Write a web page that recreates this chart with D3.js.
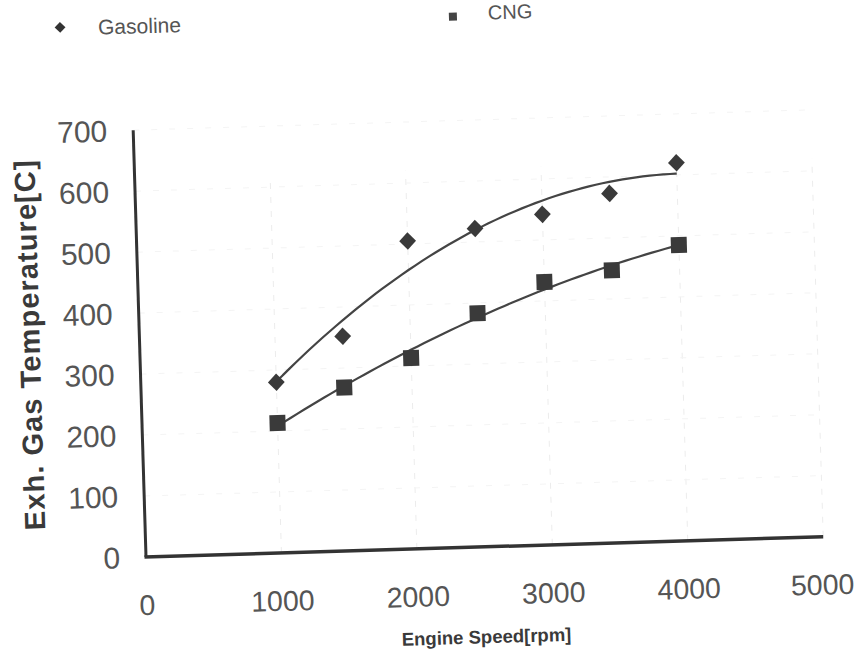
<!DOCTYPE html>
<html>
<head>
<meta charset="utf-8">
<script src="https://cdn.jsdelivr.net/npm/d3@7"></script>
<style>
  body { margin: 0; background: #fff; }
  svg { display: block; font-family: 'Liberation Sans', Arial, sans-serif; }
</style>
</head>
<body>
<svg id="chart" width="856" height="660"></svg>
<script>
// engine speed [rpm] for each measurement
const speeds = [1000, 1500, 2000, 2500, 3000, 3500, 4000]
// exhaust gas temperature [C]
const gasoline = [280, 352, 505, 522, 542, 573, 620]
const cng = [213, 268, 313, 383, 431, 447, 485]

const xTicks = [0, 1000, 2000, 3000, 4000, 5000]
const yTicks = [0, 100, 200, 300, 400, 500, 600, 700]

const origin = { x: 146, y: 557 }
const tilt = -1.72 // the scanned page is slightly rotated

const svg = d3.select('#chart')
const g = svg.append('g')
  .attr('transform', 'rotate(' + tilt + ',' + origin.x + ',' + origin.y + ')')

const xScale = d3.scaleLinear().domain([0, 5000]).range([origin.x, origin.x + 677.5])
const yScale = d3.scaleLinear().domain([0, 700]).range([origin.y, origin.y - 427])

// faint dashed grid
g.selectAll('.vgrid')
  .data(xTicks.filter(d => d > 0))
  .enter()
  .append('line')
  .attr('x1', d => xScale(d))
  .attr('x2', d => xScale(d))
  .attr('y1', yScale(0))
  .attr('y2', yScale(620))
  .attr('stroke', '#ececec')
  .attr('stroke-width', 1)
  .attr('stroke-dasharray', '6,8')

g.selectAll('.hgrid')
  .data(yTicks.filter(d => d > 0))
  .enter()
  .append('line')
  .attr('x1', xScale(0))
  .attr('x2', xScale(5000))
  .attr('y1', d => yScale(d))
  .attr('y2', d => yScale(d))
  .attr('stroke', '#f4f4f4')
  .attr('stroke-width', 1)
  .attr('stroke-dasharray', '6,12')

// axes
g.append('line')
  .attr('x1', xScale(0)).attr('x2', xScale(0))
  .attr('y1', yScale(0)).attr('y2', yScale(700))
  .attr('stroke', '#333').attr('stroke-width', 3)

g.append('line')
  .attr('x1', xScale(0) - 1.5).attr('x2', xScale(5000))
  .attr('y1', yScale(0)).attr('y2', yScale(0))
  .attr('stroke', '#333').attr('stroke-width', 3.5)

// tick labels
g.selectAll('.xlab')
  .data(xTicks)
  .enter()
  .append('text')
  .attr('x', d => xScale(d) - (d === 5000 ? 2 : 0))
  .attr('y', yScale(0) + 48)
  .attr('dy', '0.35em')
  .attr('text-anchor', 'middle')
  .attr('font-size', 28.5)
  .attr('fill', '#555')
  .text(d => d)

g.selectAll('.ylab')
  .data(yTicks)
  .enter()
  .append('text')
  .attr('x', xScale(0) - 26)
  .attr('y', d => yScale(d))
  .attr('dy', '0.35em')
  .attr('text-anchor', 'end')
  .attr('font-size', 30)
  .attr('fill', '#555')
  .text(d => d)

// axis titles
g.append('text')
  .attr('transform', 'translate(36,342) rotate(-90)')
  .attr('dy', '0.35em')
  .attr('text-anchor', 'middle')
  .attr('font-size', 29)
  .attr('font-weight', 'bold')
  .attr('fill', '#3a3a3a')
  .attr('textLength', 370)
  .attr('lengthAdjust', 'spacing')
  .text('Exh. Gas Temperature[C]')

g.append('text')
  .attr('x', 484)
  .attr('y', 647)
  .attr('dy', '0.35em')
  .attr('text-anchor', 'middle')
  .attr('font-size', 18.5)
  .attr('font-weight', 'bold')
  .attr('fill', '#3a3a3a')
  .text('Engine Speed[rpm]')

// quadratic least squares trend, like a spreadsheet polynomial trendline
function quadFit(xs, ys) {
  const n = xs.length
  let s1 = 0, s2 = 0, s3 = 0, s4 = 0, t0 = 0, t1 = 0, t2 = 0
  for (let i = 0; i < n; i++) {
    const x = xs[i] / 1000
    const y = ys[i]
    s1 += x; s2 += x * x; s3 += x * x * x; s4 += x * x * x * x
    t0 += y; t1 += x * y; t2 += x * x * y
  }
  const m = [[n, s1, s2, t0], [s1, s2, s3, t1], [s2, s3, s4, t2]]
  for (let c = 0; c < 3; c++) {
    for (let r = c + 1; r < 3; r++) {
      const f = m[r][c] / m[c][c]
      for (let k = c; k < 4; k++) m[r][k] -= f * m[c][k]
    }
  }
  const coef = [0, 0, 0]
  for (let r = 2; r >= 0; r--) {
    let s = m[r][3]
    for (let k = r + 1; k < 3; k++) s -= m[r][k] * coef[k]
    coef[r] = s / m[r][r]
  }
  return x => coef[0] + coef[1] * (x / 1000) + coef[2] * (x / 1000) * (x / 1000)
}

const line = d3.line()
  .x(d => xScale(d[0]))
  .y(d => yScale(d[1]))
  .curve(d3.curveBasis)

const xMin = d3.min(speeds)
const xMax = d3.max(speeds)
const samples = d3.range(xMin, xMax + 1, 50)

;[gasoline, cng].forEach(series => {
  const fit = quadFit(speeds, series)
  g.append('path')
    .datum(samples.map(x => [x, fit(x)]))
    .attr('d', line)
    .attr('fill', 'none')
    .attr('stroke', '#444')
    .attr('stroke-width', 2.2)
})

// markers
g.selectAll('.gas')
  .data(speeds)
  .enter()
  .append('path')
  .attr('d', d3.symbol(d3.symbolDiamond2, 180)())
  .attr('transform', (d, i) => 'translate(' + xScale(d) + ',' + yScale(gasoline[i]) + ') scale(1,1.05)')
  .attr('fill', '#3a3a3a')

g.selectAll('.cng')
  .data(speeds)
  .enter()
  .append('rect')
  .attr('x', d => xScale(d) - 8)
  .attr('y', (d, i) => yScale(cng[i]) - 8)
  .attr('width', 16)
  .attr('height', 16)
  .attr('fill', '#3a3a3a')

// legend
g.append('path')
  .attr('d', d3.symbol(d3.symbolDiamond2, 75)())
  .attr('transform', 'translate(76,25)')
  .attr('fill', '#333')
g.append('text')
  .attr('x', 114).attr('y', 26)
  .attr('dy', '0.35em')
  .attr('font-size', 21)
  .attr('fill', '#555')
  .text('Gasoline')

g.append('rect')
  .attr('x', 465).attr('y', 22)
  .attr('width', 8).attr('height', 8)
  .attr('fill', '#444')
g.append('text')
  .attr('x', 504).attr('y', 23)
  .attr('dy', '0.35em')
  .attr('font-size', 20)
  .attr('fill', '#555')
  .text('CNG')
</script>
</body>
</html>
